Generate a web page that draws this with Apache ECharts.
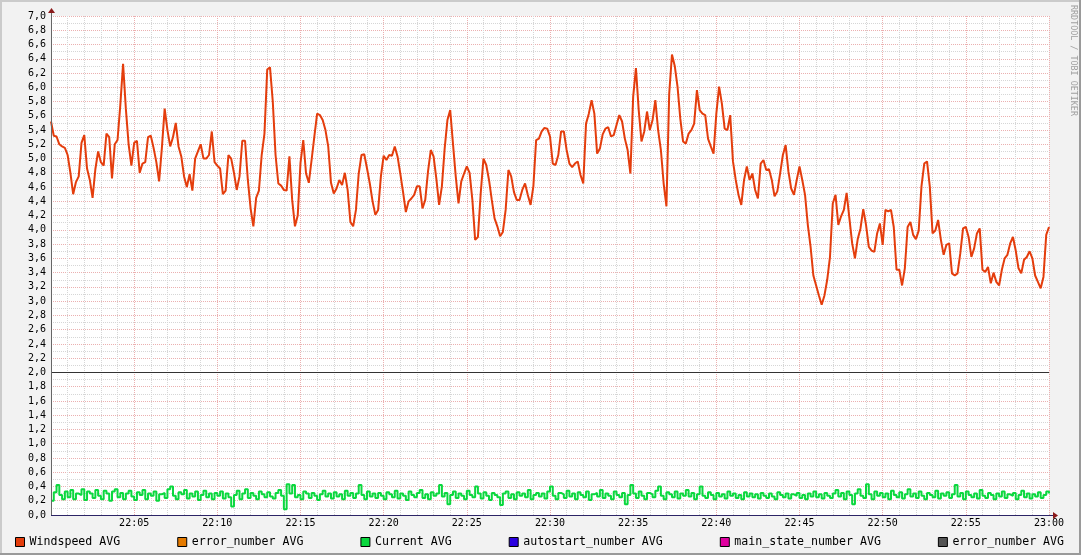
<!DOCTYPE html>
<html><head><meta charset="utf-8">
<script src="https://cdn.jsdelivr.net/npm/echarts@6/dist/echarts.min.js"></script>
<style>html,body{margin:0;padding:0;background:#f2f2f2}#c{width:1081px;height:555px}</style>
</head><body><div id="c"></div>
<script>
// ---- data ----
const startHour = 22;
const stepMinutes = 1 / 6;          // one sample every 10 s
const xTickMinutes = 5;
const yTickStep = 0.2;
const hruleValue = 2.0;
const watermark = 'RRDTOOL / TOBI OETIKER';
const legendNames = ['Windspeed AVG', 'error_number AVG', 'Current AVG', 'autostart_number AVG', 'main_state_number AVG', 'error_number AVG'];
const seriesColors = ['#e43d0c', '#e47a00', '#0ad83e', '#2a00e0', '#e000a0', '#545454'];

const windspeed = [
5.52,5.32,5.31,5.20,5.17,5.15,5.05,4.80,4.50,4.67,4.75,5.22,5.33,4.86,4.70,4.45,4.85,5.10,4.95,4.90,
5.35,5.30,4.72,5.20,5.26,5.75,6.33,5.70,5.20,4.90,5.22,5.25,4.80,4.93,4.95,5.30,5.32,5.15,4.95,4.68,
5.15,5.70,5.40,5.17,5.30,5.50,5.17,5.03,4.75,4.60,4.78,4.55,5.00,5.10,5.20,5.00,5.00,5.05,5.38,4.95,
4.90,4.86,4.50,4.55,5.05,5.00,4.80,4.56,4.75,5.25,5.25,4.70,4.30,4.05,4.45,4.55,5.05,5.35,6.25,6.28,
5.80,5.05,4.65,4.62,4.56,4.55,5.03,4.42,4.05,4.20,4.94,5.26,4.79,4.66,4.98,5.31,5.63,5.61,5.54,5.40,
5.17,4.66,4.51,4.58,4.70,4.63,4.80,4.56,4.11,4.05,4.28,4.79,5.05,5.06,4.86,4.65,4.40,4.21,4.28,4.75,
5.04,4.98,5.05,5.04,5.17,5.03,4.79,4.53,4.25,4.40,4.44,4.49,4.61,4.61,4.30,4.42,4.82,5.12,5.03,4.72,
4.35,4.61,5.14,5.54,5.68,5.21,4.75,4.37,4.68,4.79,4.89,4.80,4.42,3.86,3.90,4.51,5.00,4.91,4.70,4.42,
4.16,4.05,3.91,3.97,4.28,4.84,4.75,4.53,4.42,4.42,4.56,4.65,4.49,4.35,4.61,5.26,5.28,5.38,5.43,5.42,
5.31,4.93,4.91,5.05,5.38,5.38,5.12,4.93,4.88,4.93,4.96,4.77,4.65,5.49,5.63,5.82,5.63,5.07,5.14,5.34,
5.42,5.44,5.31,5.33,5.47,5.61,5.52,5.28,5.12,4.79,5.87,6.27,5.68,5.24,5.38,5.66,5.40,5.54,5.82,5.40,
5.12,4.65,4.33,5.91,6.46,6.30,6.01,5.56,5.24,5.21,5.35,5.40,5.49,5.96,5.68,5.63,5.61,5.28,5.17,5.07,
5.63,6.01,5.77,5.42,5.40,5.61,4.96,4.70,4.49,4.35,4.70,4.89,4.70,4.79,4.56,4.44,4.93,4.98,4.84,4.85,
4.70,4.47,4.54,4.79,5.05,5.19,4.82,4.58,4.49,4.70,4.89,4.70,4.49,4.07,3.76,3.36,3.22,3.08,2.95,3.08,
3.30,3.62,4.37,4.49,4.07,4.19,4.28,4.52,4.16,3.81,3.60,3.87,4.02,4.29,4.07,3.76,3.71,3.69,3.95,4.09,
3.79,4.28,4.26,4.28,4.04,3.44,3.44,3.22,3.46,4.04,4.11,3.93,3.87,3.99,4.61,4.93,4.96,4.61,3.95,3.99,
4.14,3.86,3.65,3.79,3.81,3.39,3.36,3.39,3.67,4.02,4.04,3.90,3.62,3.74,3.95,4.02,3.44,3.41,3.48,3.25,
3.40,3.27,3.22,3.44,3.60,3.65,3.81,3.90,3.71,3.46,3.39,3.58,3.62,3.70,3.60,3.36,3.27,3.18,3.34,3.93,
4.04
];

const current = [
.20,.32,.42,.28,.22,.33,.25,.35,.22,.30,.28,.36,.21,.33,.30,.24,.35,.27,.22,.34,
.30,.20,.33,.36,.25,.31,.22,.30,.34,.26,.21,.32,.28,.35,.22,.30,.27,.33,.20,.29,
.31,.24,.36,.40,.27,.22,.32,.29,.35,.23,.30,.26,.33,.21,.28,.34,.25,.30,.22,.31,
.27,.33,.23,.30,.25,.12,.28,.34,.22,.30,.36,.24,.31,.27,.22,.33,.29,.25,.32,.26,
.23,.31,.35,.27,.08,.43,.30,.42,.25,.28,.22,.33,.30,.24,.31,.27,.21,.29,.34,.26,
.30,.23,.32,.26,.29,.22,.34,.27,.31,.24,.30,.42,.28,.22,.33,.26,.30,.24,.31,.27,
.22,.32,.29,.25,.34,.23,.30,.27,.21,.33,.28,.25,.31,.35,.24,.29,.22,.32,.27,.30,
.42,.26,.31,.15,.28,.33,.24,.30,.27,.22,.34,.28,.25,.40,.30,.23,.32,.27,.21,.31,
.28,.25,.14,.30,.33,.24,.29,.22,.32,.27,.30,.25,.35,.22,.28,.31,.26,.30,.23,.33,
.40,.27,.22,.31,.29,.24,.34,.26,.30,.22,.32,.28,.25,.33,.21,.29,.31,.26,.35,.24,
.30,.27,.22,.33,.28,.25,.31,.15,.28,.42,.30,.24,.33,.27,.22,.31,.29,.25,.34,.40,
.27,.22,.32,.29,.25,.33,.23,.30,.27,.35,.26,.31,.22,.29,.40,.27,.24,.32,.28,.22,
.31,.26,.29,.23,.33,.27,.30,.24,.28,.22,.32,.26,.30,.25,.29,.23,.31,.27,.24,.30,
.26,.22,.32,.28,.25,.30,.23,.29,.27,.31,.24,.28,.22,.30,.26,.33,.25,.29,.23,.31,
.27,.24,.30,.35,.26,.31,.22,.33,.28,.15,.30,.36,.27,.24,.43,.29,.22,.33,.27,.31,
.25,.30,.22,.34,.28,.25,.32,.23,.29,.36,.26,.30,.24,.33,.27,.22,.31,.28,.25,.34,
.23,.30,.27,.32,.24,.29,.42,.26,.31,.22,.33,.28,.25,.30,.23,.35,.27,.24,.31,.28,
.22,.30,.26,.33,.24,.29,.27,.31,.22,.28,.34,.25,.30,.23,.29,.26,.32,.24,.28,.33,.30
];

// ---- chart ----
const toXY = arr => arr.map((v, i) => [i * stepMinutes, v]);
const totalMinutes = (windspeed.length - 1) * stepMinutes;
const mono = 'DejaVu Sans Mono';
const pad = n => (n < 10 ? '0' : '') + n;
// distinct internal names (trailing spaces) so duplicated labels both appear
const ids = legendNames.map((n, i) => n + ' '.repeat(legendNames.slice(0, i).filter(m => m === n).length));
const seriesData = [toXY(windspeed), [], toXY(current), [], [], []];
const stepped = [false, false, 'end', false, false, false];

const chart = echarts.init(document.getElementById('c'), null, { renderer: 'canvas' });
const option = {
  animation: false,
  backgroundColor: '#f2f2f2',
  grid: { left: 51, right: 32, top: 16, bottom: 40, show: true, backgroundColor: '#ffffff', borderWidth: 0 },
  xAxis: {
    type: 'value', min: 0, max: totalMinutes, interval: xTickMinutes,
    axisLine: { show: false }, axisTick: { show: false },
    axisLabel: {
      showMinLabel: false, margin: 3, color: '#000', fontFamily: mono, fontSize: 10,
      formatter: v => { const m = Math.round(v); return (startHour + Math.floor(m / 60)) + ':' + pad(m % 60); }
    },
    splitLine: { show: true, lineStyle: { color: '#ebb0b0', type: [1, 1], width: 1 } },
    minorTick: { show: false, splitNumber: 5 },
    minorSplitLine: { show: true, lineStyle: { color: '#d6d6d6', type: [1, 1], width: 1 } }
  },
  yAxis: {
    type: 'value', min: 0, max: 7, interval: yTickStep,
    axisLine: { show: false }, axisTick: { show: false },
    axisLabel: { margin: 5, color: '#000', fontFamily: mono, fontSize: 10, formatter: v => v.toFixed(1).replace('.', ',') },
    splitLine: { show: true, lineStyle: { color: '#ebb0b0', type: [1, 1], width: 1 } },
    minorTick: { show: false, splitNumber: 2 },
    minorSplitLine: { show: true, lineStyle: { color: '#d6d6d6', type: [1, 1], width: 1 } }
  },
  legend: {
    left: 15, top: 536, padding: 0, itemGap: 57, itemWidth: 9, itemHeight: 9, icon: 'rect',
    itemStyle: { borderColor: '#000', borderWidth: 1 },
    textStyle: { fontFamily: mono, fontSize: 11.6, color: '#000', padding: [0, 0, 0, 0] },
    formatter: n => n.trim(), selectedMode: false, data: ids
  },
  series: ids.map((name, i) => ({
    name, type: 'line', data: seriesData[i], color: seriesColors[i],
    showSymbol: false, symbol: 'none', silent: true, step: stepped[i],
    lineStyle: { width: 2, color: seriesColors[i] },
    z: i === 0 ? 3 : 2,
    markLine: i === 0 ? {
      silent: true, symbol: 'none', label: { show: false },
      lineStyle: { color: '#333333', type: 'solid', width: 1 },
      data: [{ yAxis: hruleValue }]
    } : undefined
  }))
};
chart.setOption(option);

// axes with arrows, frame and watermark
const o = chart.convertToPixel({ gridIndex: 0 }, [0, 0]);
const t = chart.convertToPixel({ gridIndex: 0 }, [0, 7]);
const r = chart.convertToPixel({ gridIndex: 0 }, [totalMinutes, 0]);
chart.setOption({
  graphic: [
    { type: 'line', shape: { x1: o[0] + 0.5, y1: o[1] + 0.5, x2: o[0] + 0.5, y2: t[1] - 3 }, style: { stroke: '#666666', lineWidth: 1 }, z: 10 },
    { type: 'polygon', shape: { points: [[o[0] - 3, t[1] - 3], [o[0] + 4, t[1] - 3], [o[0] + 0.5, t[1] - 8]] }, style: { fill: '#8b1a1a' }, z: 10 },
    { type: 'line', shape: { x1: o[0], y1: o[1] + 0.5, x2: r[0] + 4, y2: o[1] + 0.5 }, style: { stroke: '#2c2466', lineWidth: 1 }, z: 10 },
    { type: 'polygon', shape: { points: [[r[0] + 4, o[1] - 3], [r[0] + 4, o[1] + 4], [r[0] + 9, o[1] + 0.5]] }, style: { fill: '#8b1a1a' }, z: 10 },
    { type: 'text', x: 1073, y: 5, rotation: -Math.PI / 2, style: { text: watermark, font: '8.4px "DejaVu Sans Mono"', fill: '#a0a0a0', textAlign: 'left', textVerticalAlign: 'middle' }, z: 10 },
    { type: 'rect', shape: { x: 0, y: 0, width: 1081, height: 2 }, style: { fill: '#cbcbcb' }, z: 11 },
    { type: 'rect', shape: { x: 0, y: 0, width: 2, height: 555 }, style: { fill: '#cbcbcb' }, z: 11 },
    { type: 'rect', shape: { x: 1079, y: 0, width: 2, height: 555 }, style: { fill: '#9a9a9a' }, z: 11 },
    { type: 'rect', shape: { x: 0, y: 553, width: 1081, height: 2 }, style: { fill: '#9a9a9a' }, z: 11 }
  ]
});
</script>
</body></html>
